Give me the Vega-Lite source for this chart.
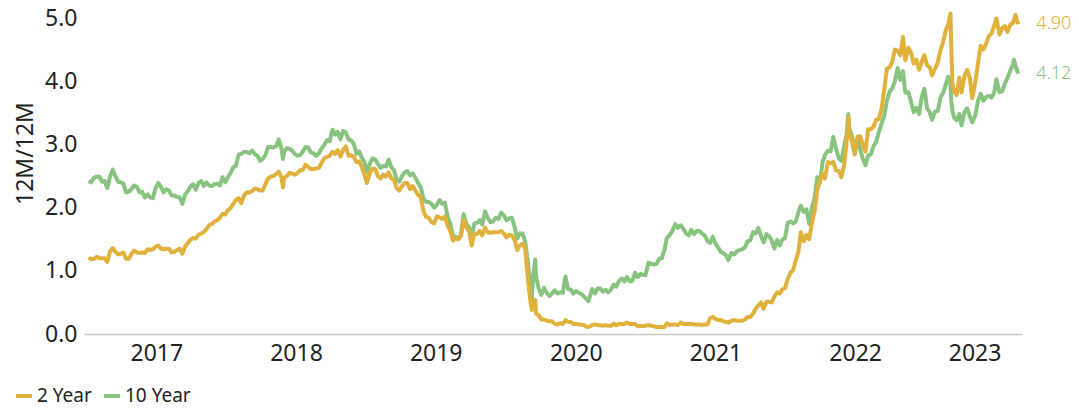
{
  "$schema": "https://vega.github.io/schema/vega-lite/v6.json",
  "width": 938,
  "height": 316,
  "autosize": {"type": "none"},
  "padding": {"left": 84, "top": 18, "right": 57, "bottom": 74},
  "background": "white",
  "config": {
    "font": "Noto Sans",
    "view": {"stroke": null},
    "axis": {"labelColor": "#222222", "titleColor": "#222222", "grid": false, "ticks": false, "tickSize": 0}
  },
  "data": {
    "values": [
      {"d":"2017-01-06","2 Year":1.21,"10 Year":2.42},
      {"d":"2017-01-13","2 Year":1.18,"10 Year":2.40},
      {"d":"2017-01-20","2 Year":1.19,"10 Year":2.47},
      {"d":"2017-01-27","2 Year":1.22,"10 Year":2.49},
      {"d":"2017-02-03","2 Year":1.20,"10 Year":2.49},
      {"d":"2017-02-10","2 Year":1.20,"10 Year":2.41},
      {"d":"2017-02-17","2 Year":1.20,"10 Year":2.42},
      {"d":"2017-02-24","2 Year":1.14,"10 Year":2.31},
      {"d":"2017-03-03","2 Year":1.31,"10 Year":2.49},
      {"d":"2017-03-10","2 Year":1.36,"10 Year":2.60},
      {"d":"2017-03-17","2 Year":1.30,"10 Year":2.50},
      {"d":"2017-03-24","2 Year":1.26,"10 Year":2.41},
      {"d":"2017-03-31","2 Year":1.27,"10 Year":2.40},
      {"d":"2017-04-07","2 Year":1.29,"10 Year":2.38},
      {"d":"2017-04-14","2 Year":1.19,"10 Year":2.24},
      {"d":"2017-04-21","2 Year":1.19,"10 Year":2.25},
      {"d":"2017-04-28","2 Year":1.27,"10 Year":2.29},
      {"d":"2017-05-05","2 Year":1.32,"10 Year":2.35},
      {"d":"2017-05-12","2 Year":1.29,"10 Year":2.33},
      {"d":"2017-05-19","2 Year":1.28,"10 Year":2.24},
      {"d":"2017-05-26","2 Year":1.29,"10 Year":2.25},
      {"d":"2017-06-02","2 Year":1.28,"10 Year":2.16},
      {"d":"2017-06-09","2 Year":1.34,"10 Year":2.21},
      {"d":"2017-06-16","2 Year":1.33,"10 Year":2.16},
      {"d":"2017-06-23","2 Year":1.34,"10 Year":2.15},
      {"d":"2017-06-30","2 Year":1.38,"10 Year":2.31},
      {"d":"2017-07-07","2 Year":1.40,"10 Year":2.39},
      {"d":"2017-07-14","2 Year":1.35,"10 Year":2.33},
      {"d":"2017-07-21","2 Year":1.34,"10 Year":2.24},
      {"d":"2017-07-28","2 Year":1.35,"10 Year":2.29},
      {"d":"2017-08-04","2 Year":1.35,"10 Year":2.27},
      {"d":"2017-08-11","2 Year":1.29,"10 Year":2.19},
      {"d":"2017-08-18","2 Year":1.30,"10 Year":2.19},
      {"d":"2017-08-25","2 Year":1.33,"10 Year":2.17},
      {"d":"2017-09-01","2 Year":1.35,"10 Year":2.16},
      {"d":"2017-09-08","2 Year":1.27,"10 Year":2.06},
      {"d":"2017-09-15","2 Year":1.38,"10 Year":2.20},
      {"d":"2017-09-22","2 Year":1.44,"10 Year":2.26},
      {"d":"2017-09-29","2 Year":1.49,"10 Year":2.33},
      {"d":"2017-10-06","2 Year":1.52,"10 Year":2.37},
      {"d":"2017-10-13","2 Year":1.51,"10 Year":2.28},
      {"d":"2017-10-20","2 Year":1.57,"10 Year":2.39},
      {"d":"2017-10-27","2 Year":1.59,"10 Year":2.42},
      {"d":"2017-11-03","2 Year":1.61,"10 Year":2.34},
      {"d":"2017-11-10","2 Year":1.66,"10 Year":2.40},
      {"d":"2017-11-17","2 Year":1.72,"10 Year":2.35},
      {"d":"2017-11-24","2 Year":1.74,"10 Year":2.34},
      {"d":"2017-12-01","2 Year":1.78,"10 Year":2.37},
      {"d":"2017-12-08","2 Year":1.80,"10 Year":2.38},
      {"d":"2017-12-15","2 Year":1.84,"10 Year":2.35},
      {"d":"2017-12-22","2 Year":1.90,"10 Year":2.48},
      {"d":"2017-12-29","2 Year":1.89,"10 Year":2.40},
      {"d":"2018-01-05","2 Year":1.96,"10 Year":2.48},
      {"d":"2018-01-12","2 Year":1.99,"10 Year":2.55},
      {"d":"2018-01-19","2 Year":2.06,"10 Year":2.64},
      {"d":"2018-01-26","2 Year":2.12,"10 Year":2.66},
      {"d":"2018-02-02","2 Year":2.15,"10 Year":2.84},
      {"d":"2018-02-09","2 Year":2.07,"10 Year":2.85},
      {"d":"2018-02-16","2 Year":2.19,"10 Year":2.88},
      {"d":"2018-02-23","2 Year":2.24,"10 Year":2.88},
      {"d":"2018-03-02","2 Year":2.24,"10 Year":2.86},
      {"d":"2018-03-09","2 Year":2.26,"10 Year":2.90},
      {"d":"2018-03-16","2 Year":2.30,"10 Year":2.85},
      {"d":"2018-03-23","2 Year":2.29,"10 Year":2.82},
      {"d":"2018-03-30","2 Year":2.27,"10 Year":2.74},
      {"d":"2018-04-06","2 Year":2.27,"10 Year":2.77},
      {"d":"2018-04-13","2 Year":2.37,"10 Year":2.83},
      {"d":"2018-04-20","2 Year":2.46,"10 Year":2.96},
      {"d":"2018-04-27","2 Year":2.49,"10 Year":2.96},
      {"d":"2018-05-04","2 Year":2.50,"10 Year":2.95},
      {"d":"2018-05-11","2 Year":2.53,"10 Year":2.97},
      {"d":"2018-05-18","2 Year":2.57,"10 Year":3.08},
      {"d":"2018-05-25","2 Year":2.48,"10 Year":2.93},
      {"d":"2018-05-29","2 Year":2.32,"10 Year":2.77},
      {"d":"2018-06-01","2 Year":2.47,"10 Year":2.89},
      {"d":"2018-06-08","2 Year":2.50,"10 Year":2.94},
      {"d":"2018-06-15","2 Year":2.55,"10 Year":2.93},
      {"d":"2018-06-22","2 Year":2.54,"10 Year":2.90},
      {"d":"2018-06-29","2 Year":2.52,"10 Year":2.85},
      {"d":"2018-07-06","2 Year":2.55,"10 Year":2.82},
      {"d":"2018-07-13","2 Year":2.59,"10 Year":2.83},
      {"d":"2018-07-20","2 Year":2.60,"10 Year":2.89},
      {"d":"2018-07-27","2 Year":2.68,"10 Year":2.96},
      {"d":"2018-08-03","2 Year":2.64,"10 Year":2.95},
      {"d":"2018-08-10","2 Year":2.61,"10 Year":2.87},
      {"d":"2018-08-17","2 Year":2.61,"10 Year":2.86},
      {"d":"2018-08-24","2 Year":2.62,"10 Year":2.82},
      {"d":"2018-08-31","2 Year":2.63,"10 Year":2.86},
      {"d":"2018-09-07","2 Year":2.71,"10 Year":2.94},
      {"d":"2018-09-14","2 Year":2.78,"10 Year":2.99},
      {"d":"2018-09-21","2 Year":2.80,"10 Year":3.07},
      {"d":"2018-09-28","2 Year":2.82,"10 Year":3.05},
      {"d":"2018-10-05","2 Year":2.88,"10 Year":3.23},
      {"d":"2018-10-12","2 Year":2.85,"10 Year":3.16},
      {"d":"2018-10-19","2 Year":2.91,"10 Year":3.20},
      {"d":"2018-10-26","2 Year":2.81,"10 Year":3.08},
      {"d":"2018-11-02","2 Year":2.91,"10 Year":3.21},
      {"d":"2018-11-09","2 Year":2.97,"10 Year":3.19},
      {"d":"2018-11-16","2 Year":2.82,"10 Year":3.08},
      {"d":"2018-11-23","2 Year":2.83,"10 Year":3.06},
      {"d":"2018-11-30","2 Year":2.80,"10 Year":3.01},
      {"d":"2018-12-07","2 Year":2.72,"10 Year":2.85},
      {"d":"2018-12-14","2 Year":2.73,"10 Year":2.89},
      {"d":"2018-12-21","2 Year":2.64,"10 Year":2.79},
      {"d":"2018-12-28","2 Year":2.52,"10 Year":2.72},
      {"d":"2019-01-03","2 Year":2.39,"10 Year":2.56},
      {"d":"2019-01-11","2 Year":2.55,"10 Year":2.70},
      {"d":"2019-01-18","2 Year":2.62,"10 Year":2.78},
      {"d":"2019-01-25","2 Year":2.61,"10 Year":2.76},
      {"d":"2019-02-01","2 Year":2.50,"10 Year":2.69},
      {"d":"2019-02-08","2 Year":2.46,"10 Year":2.63},
      {"d":"2019-02-15","2 Year":2.52,"10 Year":2.66},
      {"d":"2019-02-22","2 Year":2.49,"10 Year":2.65},
      {"d":"2019-03-01","2 Year":2.56,"10 Year":2.76},
      {"d":"2019-03-08","2 Year":2.46,"10 Year":2.64},
      {"d":"2019-03-15","2 Year":2.44,"10 Year":2.59},
      {"d":"2019-03-22","2 Year":2.31,"10 Year":2.44},
      {"d":"2019-03-29","2 Year":2.27,"10 Year":2.41},
      {"d":"2019-04-05","2 Year":2.34,"10 Year":2.50},
      {"d":"2019-04-12","2 Year":2.39,"10 Year":2.56},
      {"d":"2019-04-19","2 Year":2.39,"10 Year":2.58},
      {"d":"2019-04-26","2 Year":2.29,"10 Year":2.51},
      {"d":"2019-05-03","2 Year":2.34,"10 Year":2.54},
      {"d":"2019-05-10","2 Year":2.27,"10 Year":2.47},
      {"d":"2019-05-17","2 Year":2.20,"10 Year":2.39},
      {"d":"2019-05-24","2 Year":2.16,"10 Year":2.32},
      {"d":"2019-05-31","2 Year":1.95,"10 Year":2.14},
      {"d":"2019-06-07","2 Year":1.85,"10 Year":2.09},
      {"d":"2019-06-14","2 Year":1.84,"10 Year":2.09},
      {"d":"2019-06-21","2 Year":1.77,"10 Year":2.06},
      {"d":"2019-06-28","2 Year":1.75,"10 Year":2.00},
      {"d":"2019-07-05","2 Year":1.86,"10 Year":2.04},
      {"d":"2019-07-12","2 Year":1.85,"10 Year":2.12},
      {"d":"2019-07-19","2 Year":1.82,"10 Year":2.06},
      {"d":"2019-07-26","2 Year":1.86,"10 Year":2.08},
      {"d":"2019-08-02","2 Year":1.72,"10 Year":1.86},
      {"d":"2019-08-09","2 Year":1.63,"10 Year":1.75},
      {"d":"2019-08-16","2 Year":1.48,"10 Year":1.55},
      {"d":"2019-08-23","2 Year":1.52,"10 Year":1.54},
      {"d":"2019-08-30","2 Year":1.50,"10 Year":1.50},
      {"d":"2019-09-06","2 Year":1.55,"10 Year":1.57},
      {"d":"2019-09-13","2 Year":1.80,"10 Year":1.90},
      {"d":"2019-09-20","2 Year":1.69,"10 Year":1.74},
      {"d":"2019-09-27","2 Year":1.63,"10 Year":1.69},
      {"d":"2019-10-04","2 Year":1.40,"10 Year":1.53},
      {"d":"2019-10-11","2 Year":1.59,"10 Year":1.75},
      {"d":"2019-10-18","2 Year":1.58,"10 Year":1.76},
      {"d":"2019-10-25","2 Year":1.63,"10 Year":1.80},
      {"d":"2019-11-01","2 Year":1.56,"10 Year":1.73},
      {"d":"2019-11-08","2 Year":1.68,"10 Year":1.94},
      {"d":"2019-11-15","2 Year":1.61,"10 Year":1.84},
      {"d":"2019-11-22","2 Year":1.60,"10 Year":1.77},
      {"d":"2019-11-29","2 Year":1.61,"10 Year":1.78},
      {"d":"2019-12-06","2 Year":1.61,"10 Year":1.84},
      {"d":"2019-12-13","2 Year":1.61,"10 Year":1.82},
      {"d":"2019-12-20","2 Year":1.63,"10 Year":1.92},
      {"d":"2019-12-27","2 Year":1.59,"10 Year":1.88},
      {"d":"2020-01-03","2 Year":1.53,"10 Year":1.80},
      {"d":"2020-01-10","2 Year":1.57,"10 Year":1.83},
      {"d":"2020-01-17","2 Year":1.56,"10 Year":1.84},
      {"d":"2020-01-24","2 Year":1.49,"10 Year":1.70},
      {"d":"2020-01-31","2 Year":1.33,"10 Year":1.51},
      {"d":"2020-02-07","2 Year":1.40,"10 Year":1.59},
      {"d":"2020-02-14","2 Year":1.43,"10 Year":1.59},
      {"d":"2020-02-21","2 Year":1.35,"10 Year":1.46},
      {"d":"2020-02-28","2 Year":0.86,"10 Year":1.13},
      {"d":"2020-03-06","2 Year":0.49,"10 Year":0.71},
      {"d":"2020-03-09","2 Year":0.38,"10 Year":0.54},
      {"d":"2020-03-13","2 Year":0.49,"10 Year":0.94},
      {"d":"2020-03-18","2 Year":0.54,"10 Year":1.18},
      {"d":"2020-03-20","2 Year":0.32,"10 Year":0.92},
      {"d":"2020-03-27","2 Year":0.30,"10 Year":0.72},
      {"d":"2020-04-03","2 Year":0.23,"10 Year":0.62},
      {"d":"2020-04-10","2 Year":0.23,"10 Year":0.73},
      {"d":"2020-04-17","2 Year":0.21,"10 Year":0.65},
      {"d":"2020-04-24","2 Year":0.20,"10 Year":0.60},
      {"d":"2020-05-01","2 Year":0.20,"10 Year":0.64},
      {"d":"2020-05-08","2 Year":0.16,"10 Year":0.69},
      {"d":"2020-05-15","2 Year":0.15,"10 Year":0.64},
      {"d":"2020-05-22","2 Year":0.17,"10 Year":0.66},
      {"d":"2020-05-29","2 Year":0.16,"10 Year":0.65},
      {"d":"2020-06-05","2 Year":0.22,"10 Year":0.91},
      {"d":"2020-06-12","2 Year":0.19,"10 Year":0.71},
      {"d":"2020-06-19","2 Year":0.19,"10 Year":0.70},
      {"d":"2020-06-26","2 Year":0.16,"10 Year":0.64},
      {"d":"2020-07-03","2 Year":0.16,"10 Year":0.68},
      {"d":"2020-07-10","2 Year":0.15,"10 Year":0.65},
      {"d":"2020-07-17","2 Year":0.15,"10 Year":0.63},
      {"d":"2020-07-24","2 Year":0.14,"10 Year":0.59},
      {"d":"2020-07-31","2 Year":0.11,"10 Year":0.55},
      {"d":"2020-08-04","2 Year":0.11,"10 Year":0.52},
      {"d":"2020-08-14","2 Year":0.14,"10 Year":0.71},
      {"d":"2020-08-21","2 Year":0.15,"10 Year":0.64},
      {"d":"2020-08-28","2 Year":0.14,"10 Year":0.72},
      {"d":"2020-09-04","2 Year":0.14,"10 Year":0.72},
      {"d":"2020-09-11","2 Year":0.13,"10 Year":0.67},
      {"d":"2020-09-18","2 Year":0.14,"10 Year":0.70},
      {"d":"2020-09-25","2 Year":0.13,"10 Year":0.66},
      {"d":"2020-10-02","2 Year":0.13,"10 Year":0.70},
      {"d":"2020-10-09","2 Year":0.16,"10 Year":0.78},
      {"d":"2020-10-16","2 Year":0.14,"10 Year":0.75},
      {"d":"2020-10-23","2 Year":0.16,"10 Year":0.84},
      {"d":"2020-10-30","2 Year":0.16,"10 Year":0.88},
      {"d":"2020-11-06","2 Year":0.16,"10 Year":0.83},
      {"d":"2020-11-13","2 Year":0.18,"10 Year":0.90},
      {"d":"2020-11-20","2 Year":0.16,"10 Year":0.83},
      {"d":"2020-11-27","2 Year":0.16,"10 Year":0.84},
      {"d":"2020-12-04","2 Year":0.16,"10 Year":0.97},
      {"d":"2020-12-11","2 Year":0.12,"10 Year":0.90},
      {"d":"2020-12-18","2 Year":0.13,"10 Year":0.95},
      {"d":"2020-12-24","2 Year":0.12,"10 Year":0.94},
      {"d":"2020-12-31","2 Year":0.13,"10 Year":0.93},
      {"d":"2021-01-08","2 Year":0.14,"10 Year":1.13},
      {"d":"2021-01-15","2 Year":0.13,"10 Year":1.11},
      {"d":"2021-01-22","2 Year":0.12,"10 Year":1.10},
      {"d":"2021-01-29","2 Year":0.11,"10 Year":1.11},
      {"d":"2021-02-05","2 Year":0.11,"10 Year":1.19},
      {"d":"2021-02-12","2 Year":0.11,"10 Year":1.20},
      {"d":"2021-02-19","2 Year":0.11,"10 Year":1.34},
      {"d":"2021-02-25","2 Year":0.17,"10 Year":1.52},
      {"d":"2021-03-05","2 Year":0.14,"10 Year":1.57},
      {"d":"2021-03-12","2 Year":0.15,"10 Year":1.64},
      {"d":"2021-03-19","2 Year":0.15,"10 Year":1.74},
      {"d":"2021-03-26","2 Year":0.14,"10 Year":1.68},
      {"d":"2021-04-02","2 Year":0.18,"10 Year":1.72},
      {"d":"2021-04-09","2 Year":0.16,"10 Year":1.67},
      {"d":"2021-04-16","2 Year":0.16,"10 Year":1.59},
      {"d":"2021-04-23","2 Year":0.16,"10 Year":1.56},
      {"d":"2021-04-30","2 Year":0.16,"10 Year":1.65},
      {"d":"2021-05-07","2 Year":0.15,"10 Year":1.58},
      {"d":"2021-05-14","2 Year":0.15,"10 Year":1.63},
      {"d":"2021-05-21","2 Year":0.15,"10 Year":1.63},
      {"d":"2021-05-28","2 Year":0.14,"10 Year":1.59},
      {"d":"2021-06-04","2 Year":0.15,"10 Year":1.56},
      {"d":"2021-06-11","2 Year":0.15,"10 Year":1.47},
      {"d":"2021-06-18","2 Year":0.25,"10 Year":1.44},
      {"d":"2021-06-25","2 Year":0.27,"10 Year":1.54},
      {"d":"2021-07-02","2 Year":0.24,"10 Year":1.43},
      {"d":"2021-07-09","2 Year":0.22,"10 Year":1.37},
      {"d":"2021-07-16","2 Year":0.22,"10 Year":1.30},
      {"d":"2021-07-23","2 Year":0.20,"10 Year":1.28},
      {"d":"2021-07-30","2 Year":0.19,"10 Year":1.24},
      {"d":"2021-08-04","2 Year":0.18,"10 Year":1.17},
      {"d":"2021-08-13","2 Year":0.21,"10 Year":1.28},
      {"d":"2021-08-20","2 Year":0.22,"10 Year":1.26},
      {"d":"2021-08-27","2 Year":0.21,"10 Year":1.31},
      {"d":"2021-09-03","2 Year":0.21,"10 Year":1.33},
      {"d":"2021-09-10","2 Year":0.21,"10 Year":1.34},
      {"d":"2021-09-17","2 Year":0.23,"10 Year":1.37},
      {"d":"2021-09-24","2 Year":0.27,"10 Year":1.47},
      {"d":"2021-10-01","2 Year":0.27,"10 Year":1.48},
      {"d":"2021-10-08","2 Year":0.32,"10 Year":1.61},
      {"d":"2021-10-15","2 Year":0.40,"10 Year":1.59},
      {"d":"2021-10-22","2 Year":0.45,"10 Year":1.68},
      {"d":"2021-10-29","2 Year":0.50,"10 Year":1.55},
      {"d":"2021-11-05","2 Year":0.40,"10 Year":1.45},
      {"d":"2021-11-12","2 Year":0.51,"10 Year":1.58},
      {"d":"2021-11-19","2 Year":0.51,"10 Year":1.55},
      {"d":"2021-11-26","2 Year":0.50,"10 Year":1.48},
      {"d":"2021-12-03","2 Year":0.59,"10 Year":1.35},
      {"d":"2021-12-10","2 Year":0.66,"10 Year":1.49},
      {"d":"2021-12-17","2 Year":0.64,"10 Year":1.40},
      {"d":"2021-12-23","2 Year":0.70,"10 Year":1.49},
      {"d":"2021-12-31","2 Year":0.73,"10 Year":1.52},
      {"d":"2022-01-07","2 Year":0.87,"10 Year":1.76},
      {"d":"2022-01-14","2 Year":0.97,"10 Year":1.78},
      {"d":"2022-01-21","2 Year":1.01,"10 Year":1.75},
      {"d":"2022-01-28","2 Year":1.17,"10 Year":1.78},
      {"d":"2022-02-04","2 Year":1.31,"10 Year":1.93},
      {"d":"2022-02-10","2 Year":1.61,"10 Year":2.03},
      {"d":"2022-02-18","2 Year":1.47,"10 Year":1.93},
      {"d":"2022-02-25","2 Year":1.57,"10 Year":1.97},
      {"d":"2022-03-04","2 Year":1.50,"10 Year":1.74},
      {"d":"2022-03-11","2 Year":1.75,"10 Year":2.00},
      {"d":"2022-03-18","2 Year":1.94,"10 Year":2.15},
      {"d":"2022-03-25","2 Year":2.27,"10 Year":2.48},
      {"d":"2022-04-01","2 Year":2.44,"10 Year":2.39},
      {"d":"2022-04-08","2 Year":2.53,"10 Year":2.72},
      {"d":"2022-04-14","2 Year":2.46,"10 Year":2.83},
      {"d":"2022-04-22","2 Year":2.72,"10 Year":2.90},
      {"d":"2022-04-29","2 Year":2.70,"10 Year":2.89},
      {"d":"2022-05-06","2 Year":2.72,"10 Year":3.12},
      {"d":"2022-05-13","2 Year":2.59,"10 Year":2.93},
      {"d":"2022-05-20","2 Year":2.58,"10 Year":2.78},
      {"d":"2022-05-27","2 Year":2.48,"10 Year":2.74},
      {"d":"2022-06-03","2 Year":2.66,"10 Year":2.96},
      {"d":"2022-06-10","2 Year":3.06,"10 Year":3.16},
      {"d":"2022-06-14","2 Year":3.43,"10 Year":3.48},
      {"d":"2022-06-17","2 Year":3.17,"10 Year":3.25},
      {"d":"2022-06-24","2 Year":3.04,"10 Year":3.13},
      {"d":"2022-07-01","2 Year":2.84,"10 Year":2.88},
      {"d":"2022-07-08","2 Year":3.12,"10 Year":3.08},
      {"d":"2022-07-15","2 Year":3.13,"10 Year":2.93},
      {"d":"2022-07-22","2 Year":2.99,"10 Year":2.77},
      {"d":"2022-07-29","2 Year":2.89,"10 Year":2.67},
      {"d":"2022-08-05","2 Year":3.24,"10 Year":2.83},
      {"d":"2022-08-12","2 Year":3.24,"10 Year":2.84},
      {"d":"2022-08-19","2 Year":3.28,"10 Year":2.97},
      {"d":"2022-08-26","2 Year":3.39,"10 Year":3.04},
      {"d":"2022-09-02","2 Year":3.40,"10 Year":3.20},
      {"d":"2022-09-09","2 Year":3.56,"10 Year":3.33},
      {"d":"2022-09-16","2 Year":3.87,"10 Year":3.45},
      {"d":"2022-09-23","2 Year":4.20,"10 Year":3.69},
      {"d":"2022-09-30","2 Year":4.22,"10 Year":3.83},
      {"d":"2022-10-07","2 Year":4.31,"10 Year":3.89},
      {"d":"2022-10-14","2 Year":4.50,"10 Year":4.00},
      {"d":"2022-10-21","2 Year":4.48,"10 Year":4.21},
      {"d":"2022-10-28","2 Year":4.41,"10 Year":4.02},
      {"d":"2022-11-04","2 Year":4.70,"10 Year":4.16},
      {"d":"2022-11-10","2 Year":4.33,"10 Year":3.82},
      {"d":"2022-11-18","2 Year":4.53,"10 Year":3.83},
      {"d":"2022-11-25","2 Year":4.45,"10 Year":3.68},
      {"d":"2022-12-02","2 Year":4.28,"10 Year":3.51},
      {"d":"2022-12-09","2 Year":4.34,"10 Year":3.58},
      {"d":"2022-12-16","2 Year":4.18,"10 Year":3.48},
      {"d":"2022-12-23","2 Year":4.31,"10 Year":3.75},
      {"d":"2022-12-30","2 Year":4.41,"10 Year":3.88},
      {"d":"2023-01-06","2 Year":4.25,"10 Year":3.57},
      {"d":"2023-01-13","2 Year":4.22,"10 Year":3.51},
      {"d":"2023-01-19","2 Year":4.09,"10 Year":3.39},
      {"d":"2023-01-27","2 Year":4.20,"10 Year":3.52},
      {"d":"2023-02-03","2 Year":4.30,"10 Year":3.53},
      {"d":"2023-02-10","2 Year":4.49,"10 Year":3.74},
      {"d":"2023-02-17","2 Year":4.62,"10 Year":3.82},
      {"d":"2023-02-24","2 Year":4.81,"10 Year":3.95},
      {"d":"2023-03-02","2 Year":4.89,"10 Year":4.07},
      {"d":"2023-03-08","2 Year":5.07,"10 Year":3.98},
      {"d":"2023-03-10","2 Year":4.60,"10 Year":3.70},
      {"d":"2023-03-13","2 Year":3.98,"10 Year":3.55},
      {"d":"2023-03-17","2 Year":3.84,"10 Year":3.43},
      {"d":"2023-03-24","2 Year":3.78,"10 Year":3.38},
      {"d":"2023-03-31","2 Year":4.06,"10 Year":3.48},
      {"d":"2023-04-06","2 Year":3.82,"10 Year":3.30},
      {"d":"2023-04-14","2 Year":4.09,"10 Year":3.52},
      {"d":"2023-04-21","2 Year":4.18,"10 Year":3.57},
      {"d":"2023-04-28","2 Year":4.04,"10 Year":3.44},
      {"d":"2023-05-04","2 Year":3.73,"10 Year":3.35},
      {"d":"2023-05-12","2 Year":3.98,"10 Year":3.46},
      {"d":"2023-05-19","2 Year":4.28,"10 Year":3.69},
      {"d":"2023-05-26","2 Year":4.56,"10 Year":3.80},
      {"d":"2023-06-02","2 Year":4.50,"10 Year":3.69},
      {"d":"2023-06-09","2 Year":4.59,"10 Year":3.75},
      {"d":"2023-06-16","2 Year":4.71,"10 Year":3.77},
      {"d":"2023-06-23","2 Year":4.75,"10 Year":3.74},
      {"d":"2023-06-30","2 Year":4.87,"10 Year":3.81},
      {"d":"2023-07-06","2 Year":4.99,"10 Year":4.03},
      {"d":"2023-07-14","2 Year":4.74,"10 Year":3.83},
      {"d":"2023-07-21","2 Year":4.84,"10 Year":3.84},
      {"d":"2023-07-28","2 Year":4.87,"10 Year":3.96},
      {"d":"2023-08-04","2 Year":4.78,"10 Year":4.05},
      {"d":"2023-08-11","2 Year":4.89,"10 Year":4.16},
      {"d":"2023-08-18","2 Year":4.92,"10 Year":4.26},
      {"d":"2023-08-21","2 Year":4.97,"10 Year":4.34},
      {"d":"2023-08-25","2 Year":5.05,"10 Year":4.24},
      {"d":"2023-09-01","2 Year":4.90,"10 Year":4.12}
    ]
  },
  "encoding": {
    "x": {
      "field": "d",
      "type": "temporal",
      "title": null,
      "scale": {
        "type": "utc",
        "domain": [
          {"year": 2016, "month": 12, "date": 25, "utc": true},
          {"year": 2023, "month": 9, "date": 11, "utc": true}
        ]
      },
      "axis": {
        "values": [
          {"year": 2017, "month": 7, "date": 2, "utc": true},
          {"year": 2018, "month": 7, "date": 2, "utc": true},
          {"year": 2019, "month": 7, "date": 2, "utc": true},
          {"year": 2020, "month": 7, "date": 2, "utc": true},
          {"year": 2021, "month": 7, "date": 2, "utc": true},
          {"year": 2022, "month": 7, "date": 2, "utc": true},
          {"year": 2023, "month": 5, "date": 10, "utc": true}
        ],
        "format": "%Y",
        "labelFontSize": 23,
        "labelPadding": 8,
        "labelAngle": 0,
        "domain": true,
        "domainColor": "#c8c8c8",
        "domainWidth": 1.5
      }
    }
  },
  "layer": [
    {
      "mark": {"type": "line", "strokeWidth": 4, "strokeJoin": "round"},
      "encoding": {
        "y": {
          "field": "10 Year",
          "type": "quantitative",
          "title": "12M/12M",
          "scale": {"domain": [0, 5], "nice": false},
          "axis": {
            "values": [0, 1, 2, 3, 4, 5],
            "format": ".1f",
            "labelFontSize": 23,
            "labelPadding": 7,
            "domain": false,
            "titleFontSize": 23,
            "titleFontWeight": "normal",
            "titleAngle": -90,
            "titleAlign": "center",
            "titleBaseline": "middle",
            "titleX": -59,
            "titleY": 135
          }
        },
        "color": {
          "datum": "10 Year",
          "type": "nominal",
          "scale": {"domain": ["2 Year", "10 Year"], "range": ["#E0B23C", "#88C480"]},
          "legend": {
            "title": null,
            "orient": "none",
            "direction": "horizontal",
            "legendX": -70,
            "legendY": 368,
            "gridAlign": "none",
            "symbolType": "stroke",
            "symbolSize": 256,
            "symbolStrokeWidth": 4,
            "labelFontSize": 19,
            "labelColor": "#222222",
            "labelOffset": 3,
            "columnPadding": 4,
            "padding": 0
          }
        }
      }
    },
    {
      "mark": {"type": "line", "strokeWidth": 4, "strokeJoin": "round"},
      "encoding": {
        "y": {"field": "2 Year", "type": "quantitative"},
        "color": {"datum": "2 Year", "type": "nominal"}
      }
    },
    {
      "transform": [
        {"fold": ["2 Year", "10 Year"], "as": ["s", "v"]},
        {"filter": {"field": "d", "equal": {"year": 2023, "month": 9, "date": 1, "utc": true}}}
      ],
      "mark": {"type": "text", "align": "left", "baseline": "middle", "dx": 18, "fontSize": 18, "fontWeight": 300},
      "encoding": {
        "y": {"field": "v", "type": "quantitative"},
        "text": {"field": "v", "type": "quantitative", "format": ".2f"},
        "color": {"field": "s", "type": "nominal", "legend": null}
      }
    }
  ]
}
